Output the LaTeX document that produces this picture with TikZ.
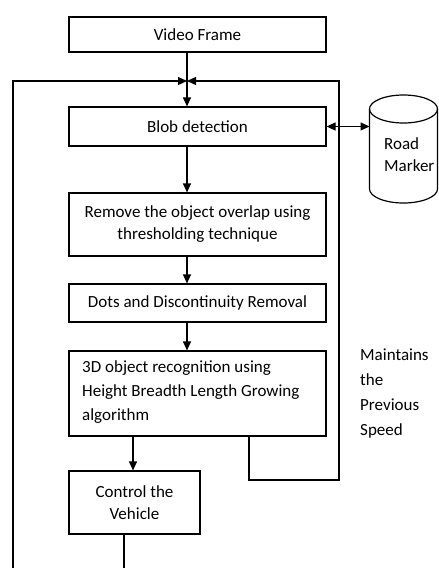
\documentclass[tikz,border=0pt]{standalone}
\usepackage{fontspec}
\setmainfont{Carlito}
\usetikzlibrary{arrows.meta}
\begin{document}
\begin{tikzpicture}[x=1pt,y=-1pt,
  box/.style={draw, line width=1.2pt, inner sep=0pt, font=\fontsize{17}{22}\selectfont, align=center},
  tip/.tip={Triangle[length=9pt,width=8pt]},
  arr/.style={line width=1.2pt, -tip},
  ln/.style={line width=1.2pt},
  lbl/.style={font=\fontsize{17}{25}\selectfont, align=left, inner sep=0pt}]
\useasboundingbox (0,0) rectangle (439,568);
% boxes
\node[box, minimum width=257, minimum height=35] (vf) at (197.5,34.5) {Video Frame};
\node[box, minimum width=257, minimum height=39] (blob) at (197.5,126.5) {Blob detection};
\node[box, minimum width=257, minimum height=63] (remove) at (197.5,224.5) {Remove the object overlap using\\thresholding technique};
\node[box, minimum width=257, minimum height=38] (dots) at (197.5,303) {Dots and Discontinuity Removal};
\node[box, minimum width=257, minimum height=85] (rec) at (197.5,393.5) {};
\node[lbl, font=\fontsize{17}{24}\selectfont, anchor=west] (rectext) at (82,392) {3D object recognition using\\Height Breadth Length Growing\\algorithm};
\node[box, minimum width=131, minimum height=63] (ctrl) at (134.5,502.5) {Control the\\Vehicle};
% helper coordinates
\coordinate (J) at (187,81);
\coordinate (x133) at (133,0);
\coordinate (x249) at (249,0);
\coordinate (rr) at (339,480);
\coordinate (bl) at (13,568);
\coordinate (cb) at (124,568);
\coordinate (roadW) at (369.5,127);
% main flow
\draw[arr] (vf.south -| J) -- (blob.north -| J);
\draw[arr] (blob.south -| J) -- (remove.north -| J);
\draw[arr] (remove.south -| J) -- (dots.north -| J);
\draw[arr] (dots.south -| J) -- (rec.north -| J);
\draw[arr] (rec.south -| x133) -- (ctrl.north -| x133);
% loops
\draw[arr] (rec.south -| x249) |- (rr) |- (J);
\draw[arr] (bl) |- (J);
\draw[ln] (ctrl.south -| cb) -- (cb);
% road marker cylinder
\draw[ln] (369.5,109) -- (369.5,189) arc[start angle=180,end angle=0,x radius=34,y radius=14] -- (437.5,109);
\draw[ln] (403.5,109) ellipse [x radius=34, y radius=14];
\node[lbl, font=\fontsize{17}{22}\selectfont, anchor=west] (road) at (384,155) {Road\\Marker};
\draw[line width=1.2pt, tip-tip] (blob.east) -- (blob.east -| roadW);
% side note
\node[lbl, anchor=west] (note) at (360,394) {Maintains\\the\\Previous\\Speed};
\end{tikzpicture}
\end{document}
